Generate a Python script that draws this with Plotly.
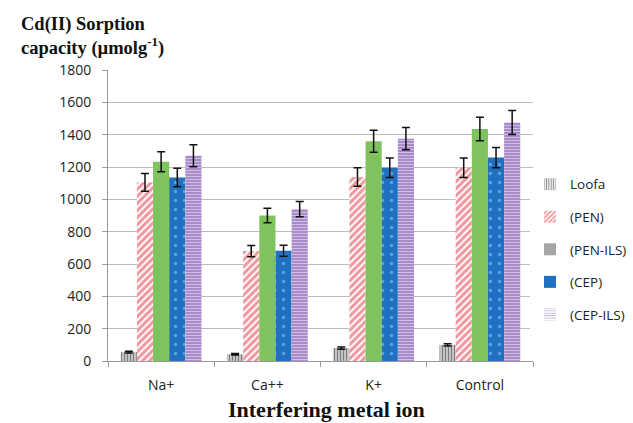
import plotly.graph_objects as go

ions = ["Na+", "Ca++", "K+", "Control"]
series_names = ["Loofa", "(PEN)", "(PEN-ILS)", "(CEP)", "(CEP-ILS)"]

loofa = [55, 42, 80, 100]
pen = [1105, 680, 1138, 1195]
pen_ils = [1233, 900, 1360, 1435]
cep = [1135, 682, 1195, 1258]
cep_ils = [1270, 940, 1375, 1475]

loofa_err = [6, 5, 7, 7]
pen_err = [55, 35, 57, 60]
pen_ils_err = [62, 45, 68, 72]
cep_err = [57, 34, 60, 63]
cep_ils_err = [68, 47, 69, 74]

values = [loofa, pen, pen_ils, cep, cep_ils]
errors = [loofa_err, pen_err, pen_ils_err, cep_err, cep_ils_err]

# bar fill styles per series
styles = [
    dict(color="#FFFFFF", pattern=dict(shape="|", fgcolor="#222222", bgcolor="#D9D9D9", size=3, solidity=0.5)),
    dict(color="#FFFFFF", pattern=dict(shape="/", fgcolor="#E0303E", bgcolor="#FFFFFF", size=5, solidity=0.6)),
    dict(color="#7FC35E"),
    dict(color="#1F70C1", pattern=dict(shape=".", fgcolor="#9FD0F5", bgcolor="#1F70C1", size=9, solidity=0.12)),
    dict(color="#A98BCB", pattern=dict(shape="-", fgcolor="#FFFFFF", bgcolor="#A98BCB", size=3, solidity=0.3)),
]
# legend swatches
legend_styles = [
    dict(color="#FFFFFF", pattern=dict(shape="|", fgcolor="#222222", bgcolor="#FFFFFF", size=3, solidity=0.5)),
    dict(color="#FFFFFF", pattern=dict(shape="/", fgcolor="#E0303E", bgcolor="#FFFFFF", size=4, solidity=0.55)),
    dict(color="#A6A6A6"),
    dict(color="#1F70C1"),
    dict(color="#FFFFFF", pattern=dict(shape="-", fgcolor="#8E6FB5", bgcolor="#FFFFFF", size=3, solidity=0.4)),
]

fig = go.Figure()
for name, vals, errs, st in zip(series_names, values, errors, styles):
    fig.add_trace(go.Bar(
        x=ions, y=vals, name=name, showlegend=False,
        marker=dict(line=dict(width=0), **st),
        error_y=dict(type="data", array=errs, color="#111111", thickness=1.5, width=4),
    ))
# legend-only swatches live on a hidden pair of axes
for i, (name, st) in enumerate(zip(series_names, legend_styles)):
    fig.add_trace(go.Bar(
        x=[ions[0]], y=[None], name=name, legendgroup=f"g{i}",
        xaxis="x2", yaxis="y2",
        marker=dict(line=dict(width=0), **st),
    ))

fig.update_layout(
    width=633, height=423,
    margin=dict(l=108, r=100, t=70, b=62, autoexpand=False),
    paper_bgcolor="white", plot_bgcolor="white",
    barmode="group", bargap=0.24, bargroupgap=0,
    font=dict(family="Open Sans, Liberation Sans, sans-serif", size=14, color="#222222"),
    legend=dict(x=0.993, y=0.66, xanchor="left", yanchor="top",
                font=dict(size=13.5, color="#222222"), tracegroupgap=12,
                traceorder="grouped", itemwidth=30),
    xaxis=dict(showline=True, linecolor="#9A9A9A", linewidth=1,
               ticks="outside", tickson="boundaries", ticklen=5, tickcolor="#9A9A9A",
               tickfont=dict(size=14), ticklabelstandoff=11),
    yaxis=dict(range=[0, 1800], dtick=200, showgrid=True, gridcolor="#BDBDBD", gridwidth=1,
               showline=True, linecolor="#9A9A9A", linewidth=1,
               ticks="outside", ticklen=5, tickcolor="#9A9A9A",
               tickfont=dict(size=14), zeroline=False, ticklabelstandoff=8),
    xaxis2=dict(overlaying="x", visible=False),
    yaxis2=dict(overlaying="y", visible=False, range=[0, 1]),
    annotations=[
        dict(text="<b>Cd(II) Sorption<br>capacity (µmolg<sup>-1</sup>)</b>",
             xref="paper", yref="paper", x=-0.21, y=1.198, xanchor="left", yanchor="top",
             showarrow=False, align="left",
             font=dict(family="Liberation Serif, Times New Roman, serif", size=18.5, color="#111111")),
        dict(text="<b>Interfering metal ion</b>",
             xref="paper", yref="paper", x=0.513, y=-0.168, xanchor="center", yanchor="middle",
             showarrow=False,
             font=dict(family="Liberation Serif, Times New Roman, serif", size=22, color="#111111")),
    ],
)

fig.write_html("out.html")
